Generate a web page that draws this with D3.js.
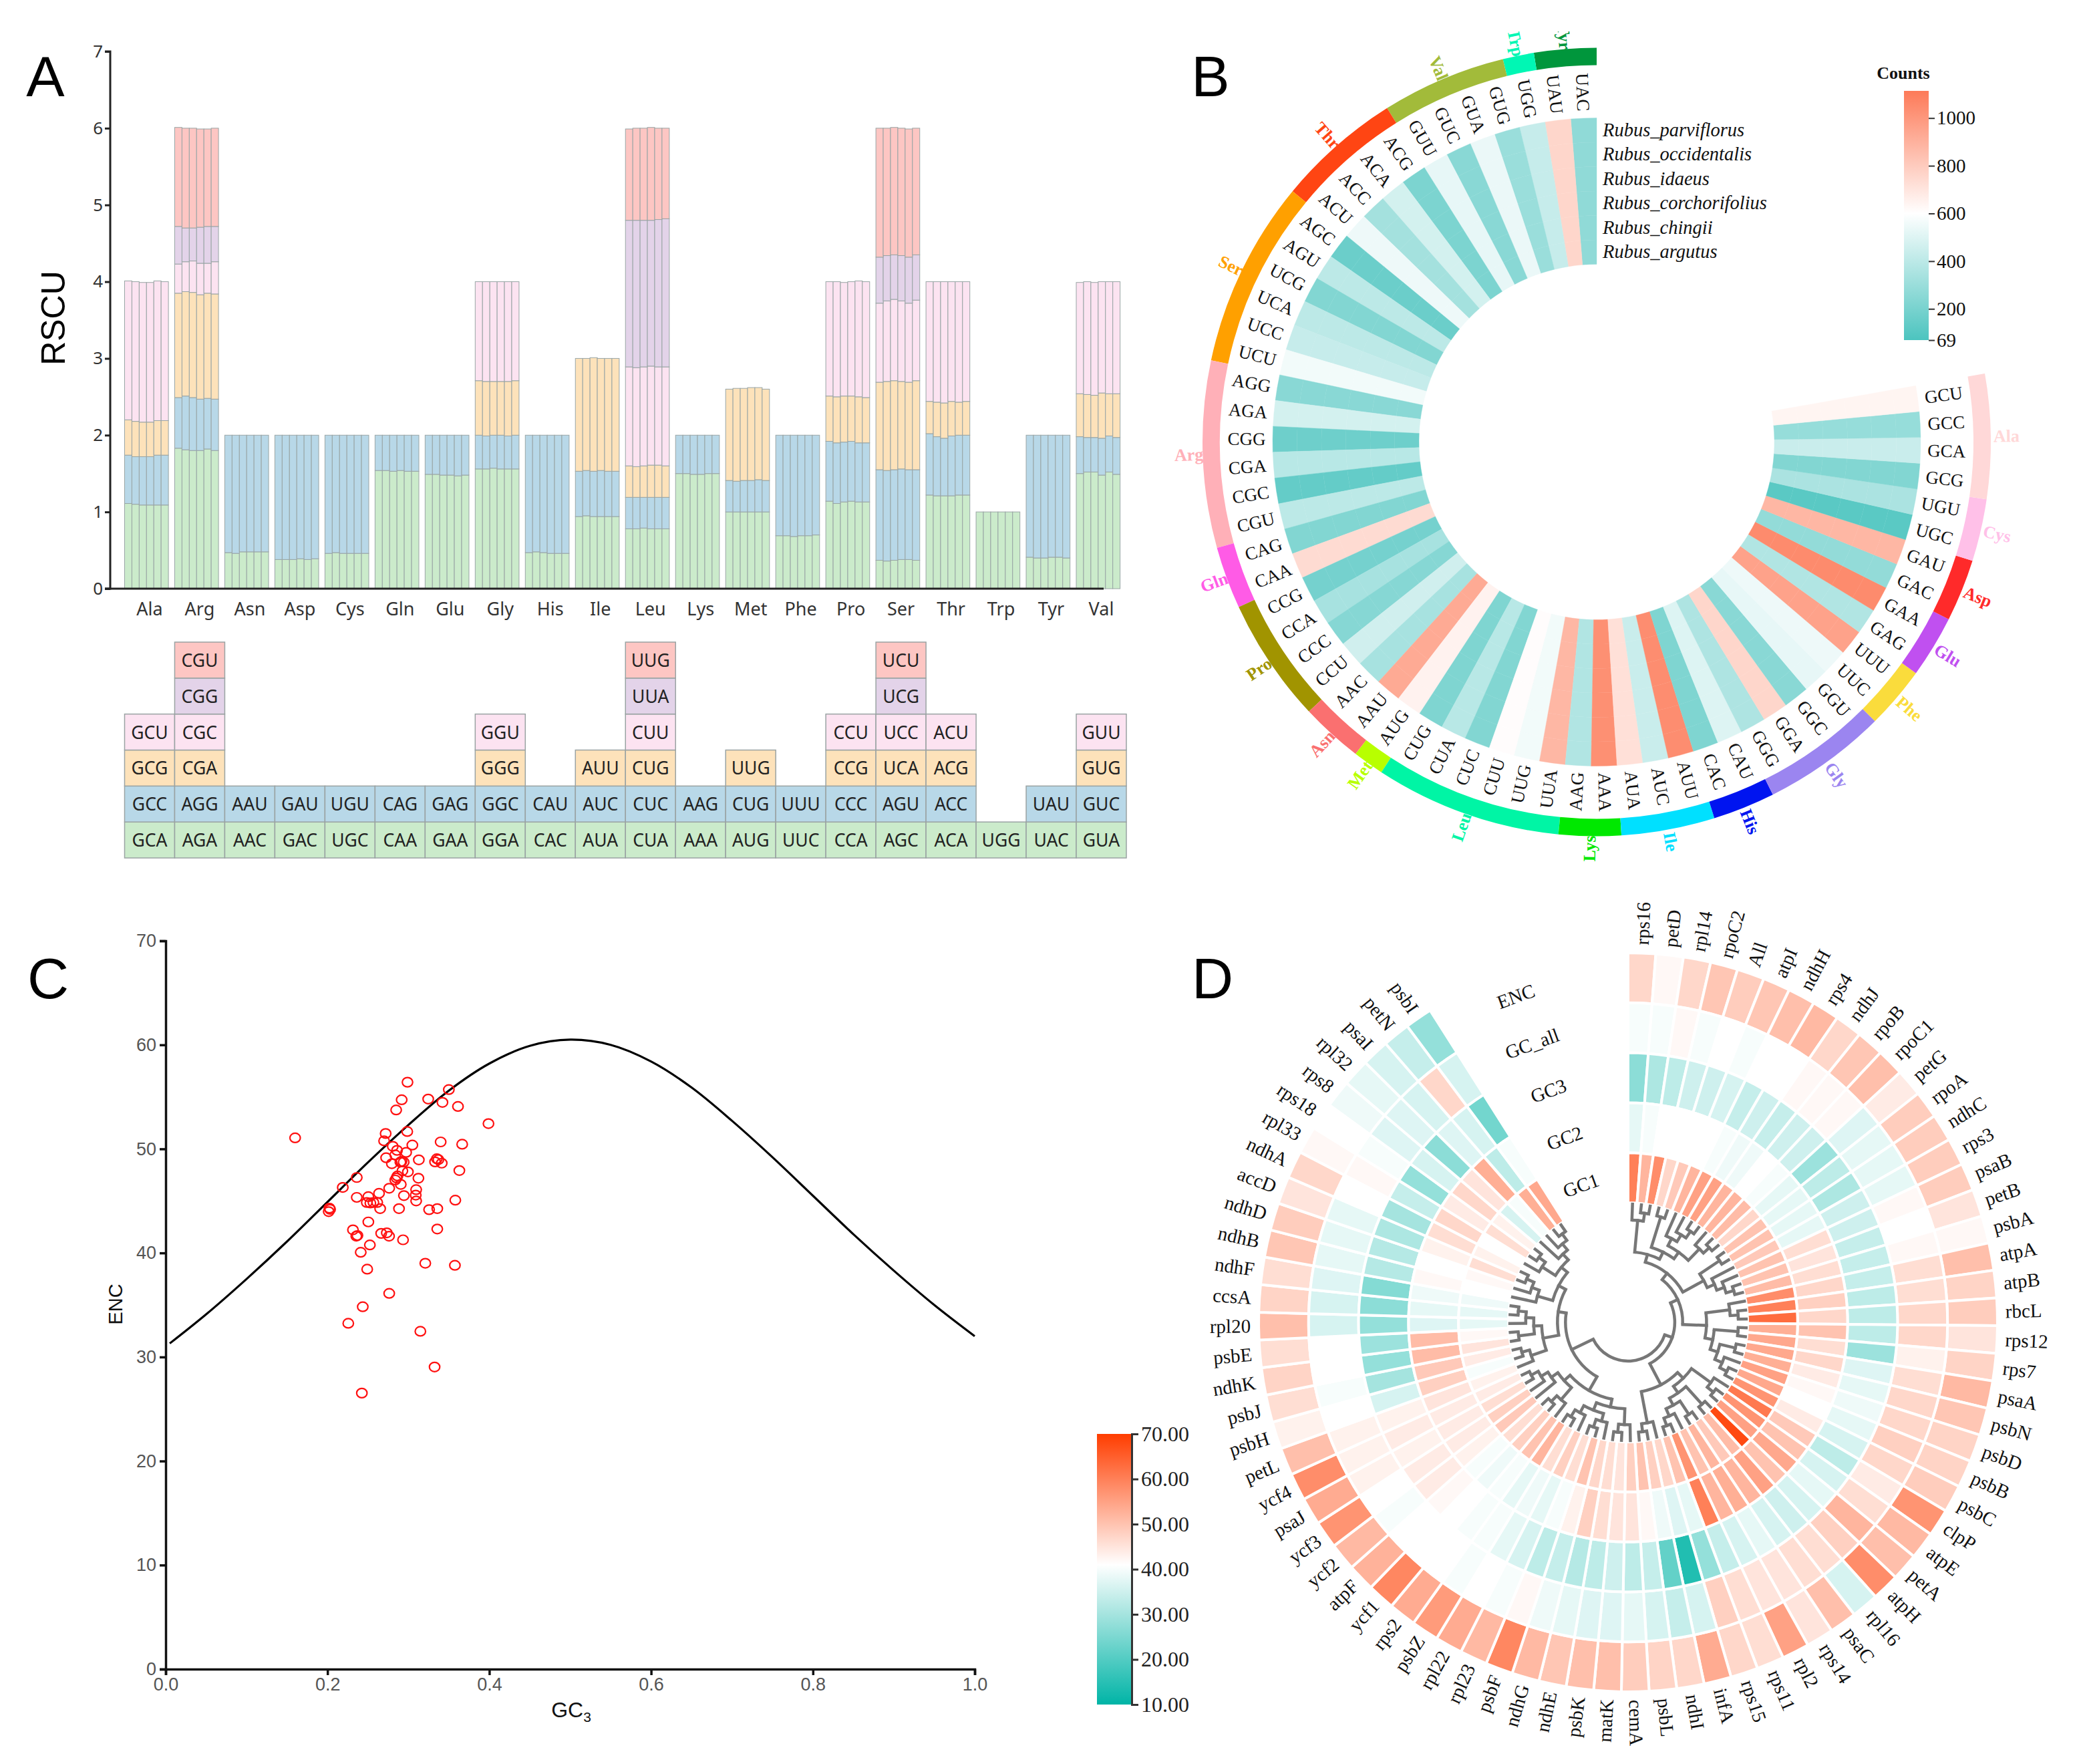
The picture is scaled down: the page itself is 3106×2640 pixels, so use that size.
<!DOCTYPE html>
<html><head><meta charset="utf-8">
<script src="https://cdn.jsdelivr.net/npm/d3@7/dist/d3.min.js"></script>
<style>html,body{margin:0;padding:0;background:#fff}svg{display:block}</style>
</head><body>
<svg id="c" width="3106" height="2640" xmlns="http://www.w3.org/2000/svg"></svg>
<script>
// ---------- Panel A data ----------
const aminoAcids = ["Ala","Arg","Asn","Asp","Cys","Gln","Glu","Gly","His","Ile","Leu","Lys","Met","Phe","Pro","Ser","Thr","Trp","Tyr","Val"];
const rscuSpecies = ["s1","s2","s3","s4","s5","s6"];
const colAla = ["GCA","GCC","GCG","GCU"], colArg = ["AGA","AGG","CGA","CGC","CGG","CGU"], colAsn = ["AAC","AAU"], colAsp = ["GAC","GAU"], colCys = ["UGC","UGU"], colGln = ["CAA","CAG"], colGlu = ["GAA","GAG"], colGly = ["GGA","GGC","GGG","GGU"], colHis = ["CAC","CAU"], colIle = ["AUA","AUC","AUU"], colLeu = ["CUA","CUC","CUG","CUU","UUA","UUG"], colLys = ["AAA","AAG"], colMet = ["AUG","CUG","UUG"], colPhe = ["UUC","UUU"], colPro = ["CCA","CCC","CCG","CCU"], colSer = ["AGC","AGU","UCA","UCC","UCG","UCU"], colThr = ["ACA","ACC","ACG","ACU"], colTrp = ["UGG"], colTyr = ["UAC","UAU"], colVal = ["GUA","GUC","GUG","GUU"];
const codonColumns = [colAla,colArg,colAsn,colAsp,colCys,colGln,colGlu,colGly,colHis,colIle,colLeu,colLys,colMet,colPhe,colPro,colSer,colThr,colTrp,colTyr,colVal];
// cumulative stack tops, one row per codon, one value per species
const topAla = [[1.11,1.10,1.09,1.09,1.09,1.09],[1.74,1.72,1.72,1.72,1.74,1.74],[2.20,2.18,2.17,2.17,2.19,2.19],[4.01,4.00,3.99,3.99,4.01,4.00]];
const topArg = [[1.83,1.81,1.80,1.80,1.82,1.80],[2.49,2.51,2.49,2.47,2.48,2.47],[3.85,3.87,3.86,3.83,3.85,3.84],[4.23,4.26,4.27,4.24,4.24,4.26],[4.72,4.70,4.70,4.71,4.72,4.72],[6.01,6.00,6.00,5.99,5.99,6.00]];
const topAsn = [[0.47,0.46,0.48,0.48,0.48,0.48],[2,2,2,2,2,2]];
const topAsp = [[0.38,0.38,0.38,0.39,0.38,0.39],[2,2,2,2,2,2]];
const topCys = [[0.46,0.47,0.46,0.46,0.46,0.46],[2,2,2,2,2,2]];
const topGln = [[1.54,1.54,1.53,1.54,1.53,1.53],[2,2,2,2,2,2]];
const topGlu = [[1.49,1.49,1.48,1.48,1.47,1.48],[2,2,2,2,2,2]];
const topGly = [[1.56,1.56,1.57,1.56,1.56,1.56],[2.00,1.99,2.00,2.00,1.99,2.00],[2.71,2.70,2.70,2.70,2.70,2.71],[4,4,4,4,4,4]];
const topHis = [[0.47,0.48,0.47,0.46,0.46,0.46],[2,2,2,2,2,2]];
const topIle = [[0.94,0.95,0.94,0.94,0.94,0.94],[1.53,1.54,1.53,1.54,1.53,1.53],[3.00,3.00,3.01,3.00,3.00,3.00]];
const topLeu = [[0.78,0.78,0.79,0.78,0.78,0.78],[1.19,1.19,1.19,1.19,1.19,1.19],[1.60,1.59,1.60,1.61,1.61,1.60],[2.89,2.88,2.89,2.90,2.89,2.89],[4.80,4.80,4.80,4.80,4.81,4.82],[5.99,6.00,6.00,6.01,6.00,6.00]];
const topLys = [[1.50,1.50,1.49,1.49,1.50,1.50],[2,2,2,2,2,2]];
const topMet = [[1.00,1.00,1.00,1.00,1.00,1.00],[1.41,1.40,1.41,1.41,1.42,1.41],[2.60,2.61,2.61,2.62,2.62,2.60]];
const topPhe = [[0.69,0.69,0.68,0.69,0.69,0.70],[2,2,2,2,2,2]];
const topPro = [[1.14,1.11,1.13,1.14,1.13,1.13],[1.92,1.90,1.91,1.92,1.90,1.90],[2.51,2.50,2.51,2.51,2.50,2.49],[4.00,4.00,3.99,4.00,4.01,4.00]];
const topSer = [[0.37,0.36,0.37,0.38,0.38,0.37],[1.55,1.54,1.55,1.56,1.55,1.55],[2.69,2.70,2.71,2.70,2.69,2.71],[3.72,3.75,3.77,3.75,3.72,3.76],[4.32,4.34,4.35,4.34,4.32,4.35],[6.00,6.00,6.01,6.00,5.99,6.00]];
const topThr = [[1.22,1.21,1.21,1.21,1.22,1.22],[2.02,1.98,1.96,1.99,2.00,2.00],[2.44,2.43,2.42,2.44,2.43,2.44],[4,4,4,4,4,4]];
const topTrp = [[1,1,1,1,1,1]];
const topTyr = [[0.41,0.40,0.40,0.41,0.41,0.40],[2,2,2,2,2,2]];
const topVal = [[1.50,1.52,1.52,1.48,1.52,1.49],[1.98,1.97,1.97,1.96,1.99,1.97],[2.54,2.53,2.52,2.55,2.54,2.54],[3.99,4.00,3.99,4.00,4.00,4.00]];
const stackTops = [topAla,topArg,topAsn,topAsp,topCys,topGln,topGlu,topGly,topHis,topIle,topLeu,topLys,topMet,topPhe,topPro,topSer,topThr,topTrp,topTyr,topVal];
const stackColors = ["#cbebcb","#b8d8e8","#fde2ba","#fce3f1","#e3d3e9","#fdc6c3"];
const rscuTicks = [0,1,2,3,4,5,6,7];

// ---------- Panel B data ----------
const speciesNames = ["Rubus_parviflorus","Rubus_occidentalis","Rubus_idaeus","Rubus_corchorifolius","Rubus_chingii","Rubus_argutus"];
const ringCodons = ["UAC","UAU","UGG","GUG","GUA","GUC","GUU","ACG","ACA","ACC","ACU","AGC","AGU","UCG","UCA","UCC","UCU","AGG","AGA","CGG","CGA","CGC","CGU","CAG","CAA","CCG","CCA","CCC","CCU","AAC","AAU","AUG","CUG","CUA","CUC","CUU","UUG","UUA","AAG","AAA","AUA","AUC","AUU","CAC","CAU","GGG","GGA","GGC","GGU","UUC","UUU","GAG","GAA","GAC","GAU","UGC","UGU","GCG","GCA","GCC","GCU"];
const codonCounts = [270,760,430,300,540,250,530,210,470,330,550,160,400,230,400,430,560,250,470,170,390,140,400,230,740,190,340,240,460,340,930,650,220,390,230,610,560,880,370,1030,720,440,1040,220,500,360,760,250,530,550,960,370,1050,280,880,110,350,230,440,290,640];
const ringAminoNames = ["Tyr","Trp","Val","Thr","Ser","Arg","Gln","Pro","Asn","Met","Leu","Lys","Ile","His","Gly","Phe","Glu","Asp","Cys","Ala"];
const ringAminoSizes = [2,1,4,4,6,6,2,4,2,1,6,2,3,2,4,2,2,2,2,4];
const ringAminoColors = ["#00963c","#00f7b4","#a2bb3a","#ff4513","#ffa000","#ffb0b8","#ff5be6","#a19400","#fa7070","#b8ff00","#00f5a5","#00e800","#00e0ff","#0014f0","#9b85f0","#fadc3c","#c050f0","#ff2a2a","#ffc0e8","#ffd8d8"];
const countTicks = [69,200,400,600,800,1000];

// ---------- Panel C data ----------
const gc3Values = [.2989,.3500,.2917,.3245,.3421,.3613,.2849,.399,.2986,.2719,.16,.27,.3049,.2807,.3399,.3665,.2860,.2972,.2838,.2725,.3129,.3352,.3330,.3412,.3371,.2796,.2901,.2942,.2915,.3630,.2926,.2994,.2362,.3124,.2865,.2854,.2838,.2906,.2189,.2763,.3096,.2637,.3091,.2945,.2362,.2505,.3096,.358,.2486,.2530,.2615,.2568,.2024,.2032,.2015,.2651,.2884,.3256,.3357,.2505,.2315,.3357,.2370,.2356,.2664,.2733,.2761,.2934,.2524,.2411,.2491,.3209,.3575,.2763,.2436,.2257,.3148,.3324,.2425];
const encValues = [56.41,55.70,54.72,54.79,54.47,54.08,53.74,52.43,51.67,51.48,51.06,50.77,50.37,50.25,50.67,50.45,49.86,49.66,49.42,49.15,48.95,49.05,48.75,48.63,48.97,48.58,48.73,48.73,48.80,47.92,47.89,47.79,47.25,47.18,47.40,47.21,47.01,46.59,46.30,46.22,46.08,45.73,45.56,45.51,45.34,45.41,45.00,45.07,44.85,44.80,44.85,44.85,44.31,44.19,43.97,44.26,44.26,44.16,44.26,42.98,42.22,42.30,41.68,41.61,41.88,41.93,41.61,41.26,40.77,40.06,38.44,39.01,38.81,36.11,34.83,33.24,32.47,29.04,26.53];
const curveGc3 = [.005,.05,.1,.15,.2,.25,.3,.35,.4,.45,.5,.55,.6,.65,.7,.75,.8,.85,.9,.95,1];
const curveEnc = [31.3,34.1,37.5,41.1,44.9,48.7,52.3,55.6,58.2,59.9,60.5,60.0,58.4,55.9,52.7,49.2,45.5,41.8,38.3,35.0,32.0];
const xTicksC = [0,.2,.4,.6,.8,1], yTicksC = [0,10,20,30,40,50,60,70];

// ---------- Panel D data ----------
const genes = ["rps16","petD","rpl14","rpoC2","All","atpI","ndhH","rps4","ndhJ","rpoB","rpoC1","petG","rpoA","ndhC","rps3","psaB","petB","psbA","atpA","atpB","rbcL","rps12","rps7","psaA","psbN","psbD","psbB","psbC","clpP","atpE","petA","atpH","rpl16","psaC","rps14","rpl2","rps11","rps15","infA","ndhI","psbL","cemA","matK","psbK","ndhE","ndhG","psbF","rpl23","rpl22","psbZ","rps2","ycf1","atpF","ycf2","ycf3","psaJ","ycf4","petL","psbH","psbJ","ndhK","psbE","rpl20","ccsA","ndhF","ndhB","ndhD","accD","ndhA","rpl33","rps18","rps8","rpl32","psaI","petN","psbI"];
const ringNames = ["ENC","GC_all","GC3","GC2","GC1"];
const geneEnc = [47,42,47,49.5,48.5,49.5,50.5,51.5,47,49.5,50.5,44,48.5,48.5,48.5,48.5,45,42,50.5,47.5,48.5,45,47.5,51.5,49.5,47.5,47.5,48.5,57,51.5,50.5,58,36,50.5,45,55,46,47,53.5,47,47.5,48.5,50.5,50.5,49.5,51.5,59,51.5,53.5,56,53.5,59,52.5,51.5,57,53.5,58,50.5,43,46,47.5,46,50.5,47.5,46,49.5,48.5,45,47,42,41,39,38,36,34,28];
const geneGcAll = [40,40,42,40,41,40,41,41,42,42,42,37,38,38,38,42,41,42,46,46,47,47,43,46,47,47,48,47,44,46,52,48,46,46,45,45,46,48,36,34,36,38,37,37,38,39,42,40,41,40,41,41,41,40,41,43,43,43,41,40,41,41,36,36,37,38,38,38,41,42,40,37,37,36,47,36];
const geneGc3 = [27,31,33,35,35,36,34,35,34,35,35,29,33,31,35,35,34,34,34,33,33,33,29,37,38,39,38,36,33,36,38,36,35,36,38,36,34,28,14,22,34,33,35,33,32,34,33,36,38,40,40,41,42,44,44,43,44,43,36,30,28,29,28,27,26,32,32,31,30,34,28,36,27,37,36,24];
const geneGc2 = [38,40,41,41,41,41,40,39,39,41,40,38,38,38,38,46,45,46,47,48,47,50,46,47,44,42,41,44,49,50,54,50,55,52,53,52,60,38,37,39,42,45,45,46,48,43,40,38,39,38,40,39,40,43,44,44,44,45,48,49,51,51,37,38,39,42,41,43,46,47,44,47,45,53,33,40];
const geneGc1 = [60,52,58,47,49,52,55,55,52,52,51,47,50,50,49,50,50,51,58,60,63,53,54,54,53,55,54,57,61,57,55,68,51,49,52,50,57,50,47,48,50,48,45,46,47,50,46,48,46,52,50,48,46,49,48,46,44,43,40,44,45,42,38,38,39,41,42,46,43,41,46,43,36,40,53,54];
const ringSeries = [geneEnc,geneGcAll,geneGc3,geneGc2,geneGc1];
const legendTicksD = [10,20,30,40,50,60,70];
// gene clustering, leaves in the order of `genes`
const treeUpper = [["rps16",["petD","rpl14"]],[["rpoC2","All"],[["atpI",["ndhH",["rps4","ndhJ"]]],["rpoB",["rpoC1","petG"]]]]];
const treeUpper2 = [["rpoA","ndhC"],["rps3",["psaB",["petB","psbA"]]]];
const treeMid = [["atpA",["atpB","rbcL"]],[["rps12","rps7"],[["psaA","psbN"],["psbD",["psbB","psbC"]]]]];
const treeLow = [["clpP",["atpE","petA"]],[["atpH","rpl16"],[["psaC","rps14"],["rpl2",["rps11","rps15"]]]]];
const treeLow2 = ["infA",["ndhI","psbL"]];
const treeBottom = [["cemA",["matK","psbK"]],[["ndhE",["ndhG","psbF"]],["rpl23",["rpl22","psbZ"]]]];
const treeLeft1 = [["rps2",["ycf1","atpF"]],["ycf2",["ycf3",["psaJ","ycf4"]]]];
const treeLeft2 = [["petL",["psbH","psbJ"]],[["ndhK","psbE"],["rpl20",["ccsA","ndhF"]]]];
const treeLeft3 = ["ndhB",["ndhD",["accD","ndhA"]]];
const treeTopLeft = [["rpl33",["rps18","rps8"]],["rpl32",["psaI",["petN","psbI"]]]];
const geneTree = [[[[treeUpper,treeUpper2],treeMid],[treeLow,treeLow2]],[[treeBottom,treeLeft1],[treeLeft2,[treeLeft3,treeTopLeft]]]];

// ---------- drawing ----------
const svg = d3.select("#c");
svg.append("rect").attr("width",3106).attr("height",2640).attr("fill","#fff");
const defs = svg.append("defs");
const SANS = "'Liberation Sans',Arial,sans-serif", SERIF = "'Liberation Serif',serif", NOTO = "'Noto Sans',sans-serif";
const rad = d => d*Math.PI/180;

[["A",68,144],["B",1812,144],["C",72,1494],["D",1815,1494]].forEach(([t,x,y])=>
  svg.append("text").attr("x",x).attr("y",y).attr("text-anchor","middle").attr("font-family",SANS).attr("font-size",86).attr("fill","#000").text(t));

// ---- A ----
(function(){
  const g = svg.append("g");
  const x = d3.scaleBand().domain(aminoAcids).range([186.5,1686]);
  const barW = x.step()*0.875;
  const sub = d3.scaleBand().domain(d3.range(rscuSpecies.length)).range([0,barW]);
  const y = d3.scaleLinear().domain([0,7]).range([881,77]);
  aminoAcids.forEach((a,ai)=>{
    const rows = stackTops[ai];
    rows.forEach((row,ri)=>row.forEach((v,si)=>{
      const base = ri ? rows[ri-1][si] : 0;
      g.append("rect").attr("x",x(a)+sub(si)).attr("width",sub.bandwidth())
       .attr("y",y(v)).attr("height",y(base)-y(v))
       .attr("fill",stackColors[ri]).attr("stroke","#99a5a5").attr("stroke-width",1);
    }));
  });
  const ya = g.append("g").attr("transform","translate(165,0)").call(d3.axisLeft(y).tickValues(rscuTicks).tickSize(8).tickFormat(d3.format("d")));
  ya.selectAll("path,line").attr("stroke","#222").attr("stroke-width",3);
  ya.selectAll("text").attr("font-family",NOTO).attr("font-size",26).attr("fill","#333");
  ya.select("path").attr("d","M-8,77H0V881H-8").attr("fill","none");
  g.append("line").attr("x1",157).attr("x2",1652).attr("y1",y(0)).attr("y2",y(0)).attr("stroke","#222").attr("stroke-width",3);
  aminoAcids.forEach(a=>g.append("text").attr("x",x(a)+x.step()/2).attr("y",921).attr("text-anchor","middle").attr("font-family",NOTO).attr("font-size",27).attr("fill","#333").text(a));
  g.append("text").attr("transform","translate(97,476) rotate(-90)").attr("text-anchor","middle").attr("font-family",SANS).attr("font-size",50).attr("fill","#000").text("RSCU");
  // codon table
  const rowY = d3.scaleBand().domain(d3.range(6)).range([1284,961]);
  aminoAcids.forEach((a,ai)=>codonColumns[ai].forEach((c,ri)=>{
    const yy = 1284-(ri+1)*rowY.step();
    g.append("rect").attr("x",x(a)).attr("y",yy).attr("width",x.step()).attr("height",rowY.step())
     .attr("fill",stackColors[ri]).attr("stroke","#9aa3a3").attr("stroke-width",1.5);
    g.append("text").attr("x",x(a)+x.step()/2).attr("y",yy+rowY.step()/2+10).attr("text-anchor","middle")
     .attr("font-family",NOTO).attr("font-size",26.5).attr("fill","#222").text(c);
  }));
})();

// ---- B ----
(function(){
  const cx=2390, cy=661.5, span=rad(280);
  defs.append("clipPath").attr("id","clipB").append("rect").attr("x",1700).attr("y",47).attr("width",1400).attr("height",1300);
  const g = svg.append("g").attr("transform",`translate(${cx},${cy})`);
  const color = d3.scaleLinear().domain([69,600,1114]).range(["#4cc4bf","#ffffff","#fd7a58"]);
  const ang = d3.scaleBand().domain(ringCodons).range([0,span]);
  const rad6 = d3.scaleBand().domain(speciesNames).range([485,266]);
  const arc = d3.arc();
  ringCodons.forEach((c,i)=>speciesNames.forEach(s=>{
    const col = color(codonCounts[i]);
    g.append("path").attr("fill",col).attr("stroke",col).attr("stroke-width",0.4).attr("d",arc({
      innerRadius:rad6(s),outerRadius:rad6(s)+rad6.bandwidth(),
      startAngle:-(ang(c)+ang.bandwidth()),endAngle:-ang(c)}));
  }));
  const radial = (cw,r)=>{ const d=cw*180/Math.PI; const left=d>180;
    return {t:`rotate(${d-90}) translate(${r},0)`+(left?" rotate(180)":""),left}; };
  ringCodons.forEach(c=>{
    const cw = 2*Math.PI-(ang(c)+ang.bandwidth()/2);
    g.append("text").attr("transform",radial(cw,524).t).attr("text-anchor","middle").attr("dy","0.33em")
     .attr("font-family",SERIF).attr("font-size",27).attr("fill","#111").text(c);
  });
  let k=0;
  const labelsG = svg.append("g").attr("clip-path","url(#clipB)").append("g").attr("transform",`translate(${cx},${cy})`);
  const ringG = svg.append("g").attr("transform",`translate(${cx},${cy})`);
  ringAminoNames.forEach((a,i)=>{
    const n=ringAminoSizes[i];
    const a0=k*ang.step(), a1=(k+n)*ang.step(); k+=n;
    ringG.append("path").attr("fill",ringAminoColors[i]).attr("d",arc({innerRadius:564,outerRadius:590,startAngle:-a1,endAngle:-a0}));
    const cw=2*Math.PI-(a0+a1)/2, left=cw>Math.PI;
    labelsG.append("text").attr("transform",radial(cw,left?589:594).t).attr("text-anchor",left?"end":"start").attr("dy","0.33em")
     .attr("font-family",SERIF).attr("font-weight","bold").attr("font-size",26).attr("fill",ringAminoColors[i]).text(a);
  });
  speciesNames.forEach(s=>svg.append("text").attr("x",2399).attr("y",cy-rad6(s)-rad6.bandwidth()/2+9).attr("font-family",SERIF).attr("font-style","italic").attr("font-size",28.5).attr("fill","#111").text(s));
  // legend
  const yL = d3.scaleLinear().domain([69,1114]).range([509,136]);
  const gid="gradB", gr=defs.append("linearGradient").attr("id",gid).attr("x1",0).attr("x2",0).attr("y1",1).attr("y2",0);
  [69,600,1114].forEach(v=>gr.append("stop").attr("offset",(v-69)/(1114-69)).attr("stop-color",color(v)));
  svg.append("rect").attr("x",2850).attr("y",136).attr("width",37).attr("height",373).attr("fill",`url(#${gid})`);
  const ax=svg.append("g").attr("transform","translate(2887,0)").call(d3.axisRight(yL).tickValues(countTicks).tickSize(9).tickPadding(3).tickFormat(d3.format("d")));
  ax.select("path").remove();
  ax.selectAll("line").attr("stroke","#333").attr("stroke-width",2);
  ax.selectAll("text").attr("font-family",SERIF).attr("font-size",29).attr("fill","#111");
  svg.append("text").attr("x",2849).attr("y",118).attr("text-anchor","middle").attr("font-family",SERIF).attr("font-weight","bold").attr("font-size",26).attr("fill","#111").text("Counts");
})();

// ---- C ----
(function(){
  const g = svg.append("g");
  const x = d3.scaleLinear().domain([0,1]).range([248,1459]);
  const y = d3.scaleLinear().domain([0,70]).range([2498,1408]);
  const ax = g.append("g").attr("transform","translate(0,2498)").call(d3.axisBottom(x).tickValues(xTicksC).tickSize(9).tickPadding(4).tickFormat(d3.format(".1f")));
  const ay = g.append("g").attr("transform","translate(248,0)").call(d3.axisLeft(y).tickValues(yTicksC).tickSize(9).tickPadding(5));
  [ax,ay].forEach(a=>{
    a.selectAll("path,line").attr("stroke","#111").attr("stroke-width",3.5);
    a.selectAll("text").attr("font-family",SANS).attr("font-size",27).attr("fill","#555");
  });
  const line = d3.line().x((d,i)=>x(curveGc3[i])).y(d=>y(d)).curve(d3.curveCatmullRom);
  g.append("path").attr("d",line(curveEnc)).attr("fill","none").attr("stroke","#000").attr("stroke-width",3.2);
  gc3Values.forEach((v,i)=>g.append("ellipse").attr("cx",x(v)).attr("cy",y(encValues[i])).attr("rx",7.8).attr("ry",7).attr("fill","none").attr("stroke","#ff1010").attr("stroke-width",2.2));
  g.append("text").attr("transform","translate(183,1952) rotate(-90)").attr("text-anchor","middle").attr("font-family",SANS).attr("font-size",29).attr("fill","#111").text("ENC");
  const t=g.append("text").attr("x",855).attr("y",2570).attr("text-anchor","middle").attr("font-family",SANS).attr("font-size",32).attr("fill","#111");
  t.append("tspan").text("GC");
  t.append("tspan").attr("font-size",21).attr("dy",7).text("3");
})();

// ---- D ----
(function(){
  const cx=2437, cy=1979, span=rad(327.6);
  const color = d3.scaleLinear().domain([10,41,70]).range(["#00b4a6","#ffffff","#ff3d00"]);
  const g = svg.append("g").attr("transform",`translate(${cx},${cy})`);
  const ang = d3.scaleBand().domain(genes).range([0,span]);
  const r = d3.scaleBand().domain(ringNames).range([553,179]);
  const arc = d3.arc();
  ringNames.forEach((n,ri)=>genes.forEach((gene,i)=>{
    const inner=r(n);
    g.append("path").attr("fill",color(ringSeries[ri][i])).attr("stroke","#fff").attr("stroke-width",4)
     .attr("d",arc({innerRadius:inner,outerRadius:inner+r.bandwidth(),startAngle:ang(gene),endAngle:ang(gene)+ang.bandwidth()}));
  }));
  genes.forEach(gene=>{
    const cw=ang(gene)+ang.bandwidth()/2, d=cw*180/Math.PI, left=d>180;
    g.append("text").attr("transform",`rotate(${d-90}) translate(565,0)`+(left?" rotate(180)":"")).attr("text-anchor",left?"end":"start").attr("dy","0.33em")
     .attr("font-family",SERIF).attr("font-size",29).attr("fill","#111").text(gene);
  });
  ringNames.forEach(n=>{
    const rr=r(n)+r.bandwidth()/2, a=rad(341);
    g.append("text").attr("transform",`translate(${rr*Math.sin(a)},${-rr*Math.cos(a)}) rotate(-20)`).attr("text-anchor","middle").attr("dy","0.33em")
     .attr("font-family",SERIF).attr("font-size",29).attr("fill","#111").text(n);
  });
  // dendrogram
  const root = d3.hierarchy(geneTree,d=>Array.isArray(d)?d:null);
  d3.cluster().size([span,1]).separation(()=>1)(root);
  const rT = d3.scaleLinear().domain([0,1]).range([58,177]);
  const arcLine = d3.arc();
  root.descendants().forEach(n=>{
    if(n.parent){
      const s=Math.sin(n.x),c=Math.cos(n.x),r0=rT(n.parent.y),r1=rT(n.y);
      g.append("line").attr("x1",r0*s).attr("y1",-r0*c).attr("x2",r1*s).attr("y2",-r1*c).attr("stroke","#777").attr("stroke-width",4.5).attr("stroke-linecap","square");
    }
    if(n.children){
      const a0=d3.min(n.children,d=>d.x),a1=d3.max(n.children,d=>d.x),rr=rT(n.y);
      g.append("path").attr("fill","#777").attr("d",arcLine({innerRadius:rr-2.25,outerRadius:rr+2.25,startAngle:a0,endAngle:a1}));
    }
  });
  // legend
  const yL = d3.scaleLinear().domain([10,70]).range([2551,2146]);
  const gr=defs.append("linearGradient").attr("id","gradD").attr("x1",0).attr("x2",0).attr("y1",1).attr("y2",0);
  [10,20,30,41,50,60,70].forEach(v=>gr.append("stop").attr("offset",(v-10)/60).attr("stop-color",color(v)));
  svg.append("rect").attr("x",1642).attr("y",2146).attr("width",51).attr("height",405).attr("fill","url(#gradD)");
  const ax=svg.append("g").attr("transform","translate(1694,0)").call(d3.axisRight(yL).tickValues(legendTicksD).tickSize(10).tickPadding(4).tickFormat(d3.format(".2f")));
  ax.selectAll("path,line").attr("stroke","#333").attr("stroke-width",3);
  ax.selectAll("text").attr("font-family",SERIF).attr("font-size",32).attr("fill","#222");
})();
</script>
</body></html>
